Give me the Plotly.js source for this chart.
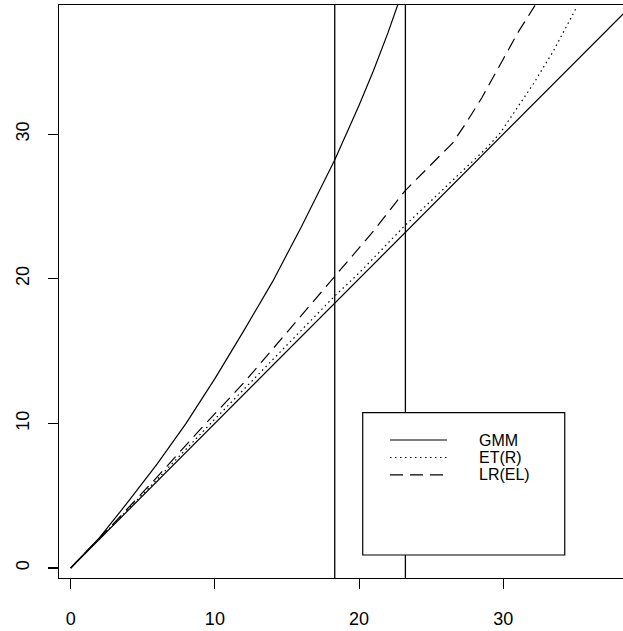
<!DOCTYPE html>
<html>
<head>
<meta charset="utf-8">
<script src="https://cdn.plot.ly/plotly-3.0.1.min.js"></script>
<style>html,body{margin:0;padding:0;background:#fff;}#chart{width:623px;height:631px;}</style>
</head>
<body>
<div id="chart"></div>
<script>
// 45-degree reference line
const refX = [0, 40];
const refY = [0, 40];
// GMM (solid)
const gmmX = [0, 2, 4, 6, 8, 10, 12, 14, 16, 18.3, 20, 21, 22, 22.7];
const gmmY = [0, 2.1, 4.6, 7.2, 10.0, 13.1, 16.4, 19.8, 23.6, 28.2, 32.0, 34.4, 37.0, 39.0];
// ET(R) (dotted)
const etX = [0, 5, 10, 15, 18.3, 20, 23.2, 25, 26.5, 28, 28.9, 29.8, 30.7, 32.1, 33.5, 35.1];
const etY = [0, 5.1, 10.3, 15.4, 18.8, 20.4, 23.7, 25.4, 26.8, 28.2, 29.1, 30.1, 31.4, 33.5, 35.8, 38.8];
// LR(EL) (dashed)
const lrX = [0, 3, 6, 9, 12, 15, 18.3, 21, 23.2, 24.7, 25.6, 26.5, 27.5, 28.5, 30, 31, 32.2];
const lrY = [0, 3.1, 6.3, 9.6, 12.8, 16.3, 20.1, 23.3, 26.1, 27.6, 28.5, 29.4, 30.9, 32.5, 35.2, 37.0, 38.9];
// vertical critical-value lines
const critVals = [18.31, 23.21];
const tickVals = [0, 10, 20, 30];
const tickText = ['0', '10', '20', '30'];
const seriesNames = ['GMM', 'ET(R)', 'LR(EL)'];
const seriesDash = ['solid', '1.5px,3.5px', '13px,7px'];

const lw = 1.2;
const FONT = 'Liberation Sans, Arial, sans-serif';
const seriesX = [gmmX, etX, lrX];
const seriesY = [gmmY, etY, lrY];

const traces = [
  {x: refX, y: refY, mode: 'lines', line: {color: '#000', width: lw}, showlegend: false, hoverinfo: 'skip'}
];
seriesNames.forEach((n, i) => traces.push({
  x: seriesX[i], y: seriesY[i], mode: 'lines', name: n, showlegend: false,
  line: {color: '#000', width: lw, dash: seriesDash[i]}
}));

const shapes = critVals.map(v => ({
  type: 'line', xref: 'x', yref: 'paper', x0: v, x1: v, y0: 0, y1: 1,
  line: {color: '#000', width: 1.3}, layer: 'above'
}));
// legend box (paper coordinates)
shapes.push({type: 'rect', xref: 'paper', yref: 'paper', x0: 0.5385, x1: 0.8967, y0: 0.0401, y1: 0.2885,
  line: {color: '#000', width: 1.2}, fillcolor: '#fff', layer: 'above'});

const legendRowY = [0.2408, 0.2103, 0.1798];
const annotations = [];
seriesNames.forEach((n, i) => {
  shapes.push({type: 'line', xref: 'paper', yref: 'paper', x0: 0.5869, x1: 0.6879,
    y0: legendRowY[i], y1: legendRowY[i], line: {color: '#000', width: lw, dash: seriesDash[i]}, layer: 'above'});
  annotations.push({xref: 'paper', yref: 'paper', x: 0.7411, y: legendRowY[i], xanchor: 'left', yanchor: 'middle',
    text: n, showarrow: false, font: {family: FONT, size: 16, color: '#000'}});
});

const axisCommon = {
  tickvals: tickVals, ticktext: tickText, ticks: 'outside', ticklen: 10, tickwidth: 1.2, tickcolor: '#000',
  showline: true, linecolor: '#000', linewidth: 1.3, showgrid: false, zeroline: false,
  tickfont: {family: FONT, size: 18, color: '#000'}
};

const layout = {
  width: 623, height: 631,
  margin: {l: 59, r: 0, t: 5, b: 53, pad: 0},
  paper_bgcolor: '#fff', plot_bgcolor: '#fff',
  xaxis: Object.assign({}, axisCommon, {range: [-0.81, 38.3], mirror: true, ticklabelstandoff: 14}),
  yaxis: Object.assign({}, axisCommon, {range: [-0.69, 38.93], tickangle: -90, mirror: false, ticklabelstandoff: 12}),
  shapes: shapes,
  annotations: annotations,
  showlegend: false
};

Plotly.newPlot('chart', traces, layout, {staticPlot: true, displayModeBar: false});
</script>
</body>
</html>
